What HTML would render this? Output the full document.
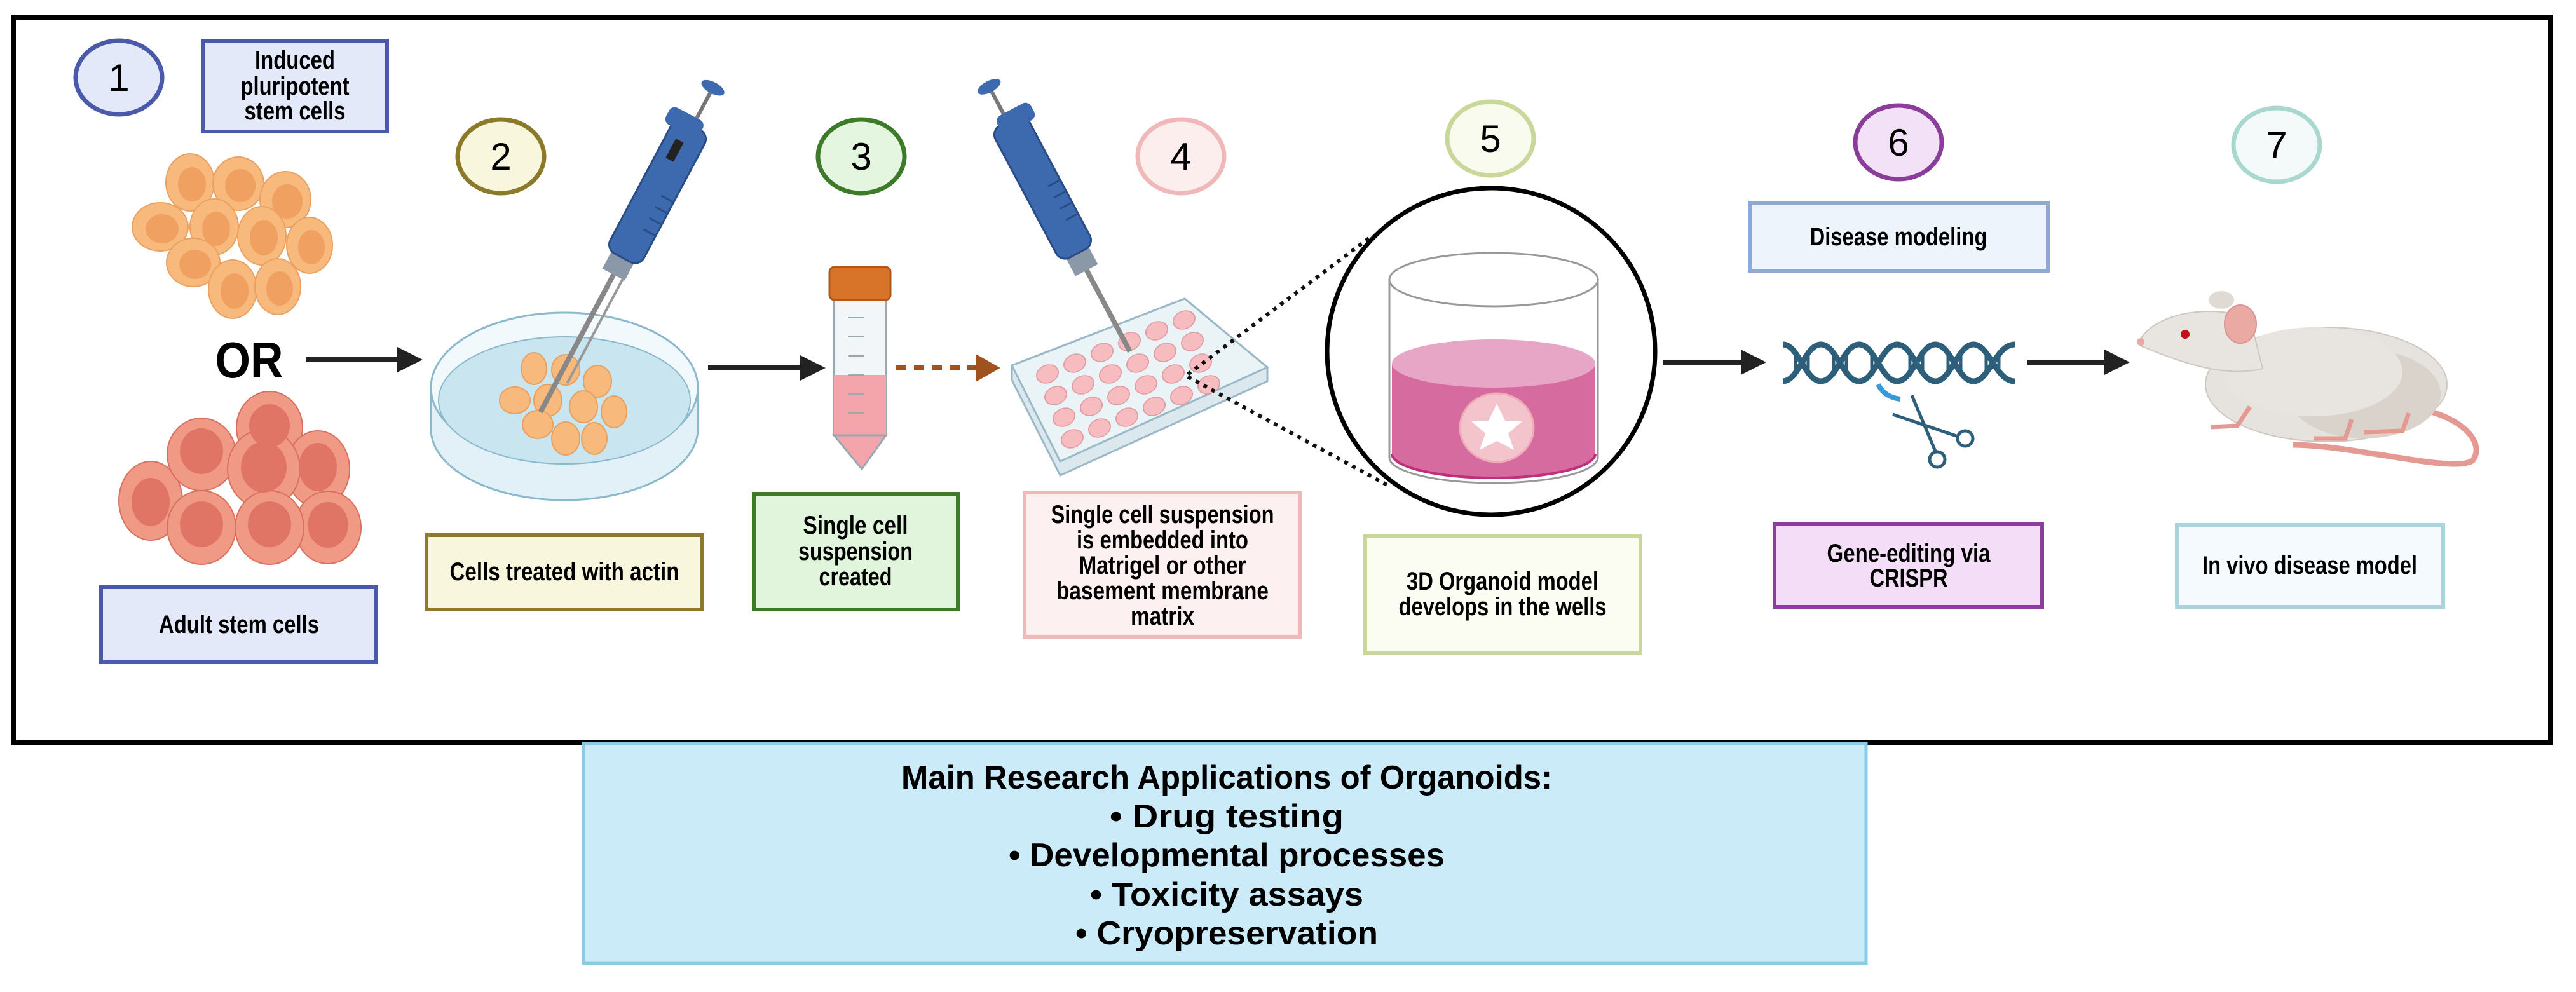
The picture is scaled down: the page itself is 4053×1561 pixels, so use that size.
<!DOCTYPE html>
<html><head><meta charset="utf-8"><style>html,body{margin:0;padding:0;background:#fff}svg{display:block}text{font-family:"Liberation Sans",sans-serif}</style></head>
<body>
<svg width="4053" height="1561" viewBox="0 0 4053 1561" xmlns="http://www.w3.org/2000/svg">
<rect width="4053" height="1561" fill="#fff"/>
<rect x="21" y="27" width="3992" height="1142" fill="none" stroke="#000" stroke-width="8"/>

<!-- bottom box -->
<rect x="918" y="1170" width="2018" height="346" fill="#cbebf9" stroke="#8ccbe6" stroke-width="5"/>
<g font-weight="bold" font-size="52" text-anchor="middle" fill="#000">
<text x="1930" y="1241" textLength="1024" lengthAdjust="spacingAndGlyphs">Main Research Applications of Organoids:</text>
<text x="1930" y="1302" textLength="368" lengthAdjust="spacingAndGlyphs">•  Drug testing</text>
<text x="1930" y="1363" textLength="686" lengthAdjust="spacingAndGlyphs">•  Developmental processes</text>
<text x="1930" y="1425" textLength="430" lengthAdjust="spacingAndGlyphs">•  Toxicity assays</text>
<text x="1930" y="1486" textLength="476" lengthAdjust="spacingAndGlyphs">•  Cryopreservation</text>
</g>

<!-- number circles -->
<g stroke-width="7" font-size="60" text-anchor="middle" fill="#000">
<ellipse cx="187" cy="122" rx="68" ry="58" fill="#e4e9fa" stroke="#4a5aa8"/>
<text x="187" y="143">1</text>
<ellipse cx="788" cy="246" rx="68" ry="58" fill="#f8f6dc" stroke="#8b7a2a"/>
<text x="788" y="267">2</text>
<ellipse cx="1355" cy="246" rx="68" ry="58" fill="#e4f5e0" stroke="#3d7a2a"/>
<text x="1355" y="267">3</text>
<ellipse cx="1858" cy="246" rx="68" ry="58" fill="#fdeeee" stroke="#f0b8b8"/>
<text x="1858" y="267">4</text>
<ellipse cx="2345" cy="218" rx="68" ry="58" fill="#f9fbef" stroke="#c9d89a"/>
<text x="2345" y="239">5</text>
<ellipse cx="2987" cy="224" rx="68" ry="58" fill="#f3e1f7" stroke="#8a3d9a"/>
<text x="2987" y="245">6</text>
<ellipse cx="3582" cy="228" rx="68" ry="58" fill="#f4faf9" stroke="#a8d8d0"/>
<text x="3582" y="249">7</text>
</g>

<!-- label boxes -->
<g stroke-width="6">
<rect x="319" y="64" width="290" height="143" fill="#e4e9fa" stroke="#4a5aa8"/>
<rect x="159" y="924" width="433" height="118" fill="#e4e9fa" stroke="#4a5aa8"/>
<rect x="671" y="842" width="434" height="117" fill="#f8f6dc" stroke="#8b7a2a"/>
<rect x="1186" y="777" width="321" height="182" fill="#e0f5dc" stroke="#3d7a2a"/>
<rect x="1612" y="775" width="433" height="227" fill="#fdf0f0" stroke="#f0b8b8"/>
<rect x="2148" y="844" width="433" height="184" fill="#fbfcf2" stroke="#c9d89a"/>
<rect x="2753" y="319" width="469" height="107" fill="#eef4fc" stroke="#8fa8d8"/>
<rect x="2792" y="825" width="421" height="130" fill="#f4ddf7" stroke="#8a3d9a"/>
<rect x="3425" y="826" width="419" height="129" fill="#f4fafd" stroke="#a8d4de"/>
</g>
<g font-weight="bold" font-size="40" text-anchor="middle" fill="#000">
<text x="464" y="108" textLength="126" lengthAdjust="spacingAndGlyphs">Induced</text>
<text x="464" y="149" textLength="171" lengthAdjust="spacingAndGlyphs">pluripotent</text>
<text x="464" y="188" textLength="159" lengthAdjust="spacingAndGlyphs">stem cells</text>
<text x="376" y="996" textLength="252" lengthAdjust="spacingAndGlyphs">Adult stem cells</text>
<text x="888" y="913" textLength="361" lengthAdjust="spacingAndGlyphs">Cells treated with actin</text>
<text x="1346" y="840" textLength="165" lengthAdjust="spacingAndGlyphs">Single cell</text>
<text x="1346" y="881" textLength="180" lengthAdjust="spacingAndGlyphs">suspension</text>
<text x="1346" y="921" textLength="115" lengthAdjust="spacingAndGlyphs">created</text>
<text x="1829" y="823" textLength="351" lengthAdjust="spacingAndGlyphs">Single cell suspension</text>
<text x="1829" y="863" textLength="270" lengthAdjust="spacingAndGlyphs">is embedded into</text>
<text x="1829" y="903" textLength="263" lengthAdjust="spacingAndGlyphs">Matrigel or other</text>
<text x="1829" y="943" textLength="334" lengthAdjust="spacingAndGlyphs">basement membrane</text>
<text x="1829" y="983" textLength="100" lengthAdjust="spacingAndGlyphs">matrix</text>
<text x="2364" y="928" textLength="302" lengthAdjust="spacingAndGlyphs">3D Organoid model</text>
<text x="2364" y="968" textLength="327" lengthAdjust="spacingAndGlyphs">develops in the wells</text>
<text x="2987" y="386" textLength="279" lengthAdjust="spacingAndGlyphs">Disease modeling</text>
<text x="3003" y="884" textLength="257" lengthAdjust="spacingAndGlyphs">Gene-editing via</text>
<text x="3003" y="923" textLength="123" lengthAdjust="spacingAndGlyphs">CRISPR</text>
<text x="3634" y="903" textLength="338" lengthAdjust="spacingAndGlyphs">In vivo disease model</text>
</g>

<text x="392" y="594" font-weight="bold" font-size="80" text-anchor="middle" textLength="107" lengthAdjust="spacingAndGlyphs">OR</text>

<!-- arrows -->
<g stroke="#222" stroke-width="8" fill="#222">
<line x1="482" y1="566" x2="630" y2="566"/><polygon points="625,546 665,566 625,586" stroke="none"/>
<line x1="1114" y1="579" x2="1264" y2="579"/><polygon points="1259,559 1299,579 1259,599" stroke="none"/>
<line x1="2616" y1="570" x2="2744" y2="570"/><polygon points="2739,550 2779,570 2739,590" stroke="none"/>
<line x1="3190" y1="570" x2="3316" y2="570"/><polygon points="3311,550 3351,570 3311,590" stroke="none"/>
</g>
<line x1="1410" y1="579" x2="1540" y2="579" stroke="#a0521e" stroke-width="8" stroke-dasharray="16,12"/>
<polygon points="1535,557 1574,579 1535,601" fill="#a0521e"/>

<!-- orange cells -->
<g fill="#f7b97c" stroke="#eaa060" stroke-width="2">
<ellipse cx="299" cy="287" rx="38" ry="45"/><ellipse cx="375" cy="289" rx="40" ry="42"/><ellipse cx="449" cy="314" rx="40" ry="44"/>
<ellipse cx="252" cy="357" rx="44" ry="38"/><ellipse cx="337" cy="357" rx="38" ry="44"/><ellipse cx="412" cy="371" rx="38" ry="46"/>
<ellipse cx="487" cy="386" rx="36" ry="44"/><ellipse cx="304" cy="413" rx="42" ry="38"/><ellipse cx="366" cy="455" rx="38" ry="46"/><ellipse cx="437" cy="451" rx="36" ry="44"/>
</g>
<g fill="#f0a060">
<ellipse cx="302" cy="290" rx="22" ry="27"/><ellipse cx="378" cy="292" rx="24" ry="26"/><ellipse cx="452" cy="317" rx="24" ry="27"/>
<ellipse cx="255" cy="360" rx="26" ry="23"/><ellipse cx="340" cy="360" rx="22" ry="27"/><ellipse cx="415" cy="374" rx="22" ry="28"/>
<ellipse cx="490" cy="389" rx="21" ry="27"/><ellipse cx="307" cy="416" rx="25" ry="23"/><ellipse cx="369" cy="458" rx="22" ry="28"/><ellipse cx="440" cy="454" rx="21" ry="27"/>
</g>
<!-- red cells -->
<g stroke="#d87060" stroke-width="2">
<g fill="#f09a85">
<ellipse cx="237" cy="788" rx="50" ry="62"/><ellipse cx="424" cy="673" rx="52" ry="57"/><ellipse cx="317" cy="715" rx="54" ry="57"/>
<ellipse cx="500" cy="738" rx="50" ry="60"/><ellipse cx="415" cy="738" rx="57" ry="62"/><ellipse cx="516" cy="830" rx="52" ry="57"/>
<ellipse cx="317" cy="830" rx="54" ry="58"/><ellipse cx="424" cy="830" rx="54" ry="58"/>
</g>
<g fill="#e07565" stroke="none">
<ellipse cx="237" cy="790" rx="30" ry="38"/><ellipse cx="424" cy="670" rx="32" ry="34"/><ellipse cx="317" cy="710" rx="34" ry="36"/>
<ellipse cx="500" cy="735" rx="30" ry="38"/><ellipse cx="415" cy="735" rx="36" ry="40"/><ellipse cx="516" cy="826" rx="32" ry="36"/>
<ellipse cx="317" cy="825" rx="34" ry="36"/><ellipse cx="424" cy="825" rx="34" ry="36"/>
</g>
</g>

<!-- petri dish -->
<ellipse cx="888" cy="675" rx="210" ry="112" fill="#e2f1f7" stroke="#8ab8cc" stroke-width="3"/>
<rect x="678" y="610" width="420" height="65" fill="#e2f1f7"/>
<line x1="678" y1="610" x2="678" y2="675" stroke="#8ab8cc" stroke-width="3"/>
<line x1="1098" y1="610" x2="1098" y2="675" stroke="#8ab8cc" stroke-width="3"/>
<ellipse cx="888" cy="610" rx="210" ry="118" fill="#f2f9fc" stroke="#8ab8cc" stroke-width="3"/>
<ellipse cx="888" cy="630" rx="198" ry="100" fill="#c8e5f0" stroke="#8ab8cc" stroke-width="2"/>
<g fill="#f7b97c" stroke="#eaa060" stroke-width="2">
<ellipse cx="840" cy="580" rx="20" ry="25"/><ellipse cx="890" cy="582" rx="22" ry="24"/><ellipse cx="940" cy="600" rx="22" ry="25"/>
<ellipse cx="810" cy="630" rx="24" ry="21"/><ellipse cx="862" cy="630" rx="22" ry="25"/><ellipse cx="918" cy="640" rx="22" ry="25"/>
<ellipse cx="966" cy="648" rx="20" ry="25"/><ellipse cx="846" cy="668" rx="24" ry="22"/><ellipse cx="890" cy="690" rx="22" ry="26"/><ellipse cx="935" cy="690" rx="20" ry="25"/>
</g>

<!-- pipette 2 -->
<g transform="translate(1085,207) rotate(28)">
<line x1="0" y1="240" x2="0" y2="500" stroke="#888" stroke-width="8"/>
<line x1="16" y1="240" x2="16" y2="440" stroke="#999" stroke-width="4"/>
<rect x="-20" y="215" width="40" height="40" fill="#8a98a8"/>
<rect x="-30" y="-10" width="60" height="235" rx="16" fill="#3d6aae" stroke="#2a4c85" stroke-width="3"/>
<rect x="-44" y="-24" width="60" height="30" rx="10" fill="#3d6aae"/>
<line x1="0" y1="-24" x2="0" y2="-75" stroke="#777" stroke-width="6"/>
<ellipse cx="0" cy="-78" rx="20" ry="9" fill="#3d6aae"/>
<rect x="-14" y="20" width="14" height="34" fill="#222"/>
<g stroke="#2a4c85" stroke-width="3"><line x1="8" y1="110" x2="28" y2="110"/><line x1="8" y1="130" x2="28" y2="130"/><line x1="8" y1="150" x2="28" y2="150"/><line x1="8" y1="170" x2="28" y2="170"/></g>
</g>

<!-- tube -->
<rect x="1312" y="470" width="82" height="215" fill="#f3f6f8" stroke="#9aa8b2" stroke-width="3"/>
<rect x="1312" y="590" width="82" height="95" fill="#f3a5ab"/>
<polygon points="1312,685 1394,685 1356,738" fill="#f3a5ab" stroke="#9aa8b2" stroke-width="3"/>
<rect x="1305" y="420" width="96" height="52" rx="8" fill="#d8732a" stroke="#b05818" stroke-width="3"/>
<g stroke="#9aa8b2" stroke-width="2"><line x1="1335" y1="500" x2="1360" y2="500"/><line x1="1335" y1="530" x2="1360" y2="530"/><line x1="1335" y1="560" x2="1360" y2="560"/><line x1="1335" y1="590" x2="1360" y2="590"/><line x1="1335" y1="620" x2="1360" y2="620"/><line x1="1335" y1="650" x2="1360" y2="650"/></g>

<!-- well plate -->
<polygon points="1592,575 1864,470 1994,578 1994,600 1668,748 1592,598" fill="#dbe9ef" stroke="#9ab8c8" stroke-width="3"/>
<polygon points="1592,575 1864,470 1994,578 1668,726" fill="#eaf3f6" stroke="#9ab8c8" stroke-width="3"/>
<g transform="matrix(43,-17,13,34,1620,580)" fill="#f7bcc0" stroke="#e09aa0" stroke-width="0.04">
<circle cx="0.5" cy="0.5" r="0.38"/><circle cx="1.5" cy="0.5" r="0.38"/><circle cx="2.5" cy="0.5" r="0.38"/><circle cx="3.5" cy="0.5" r="0.38"/><circle cx="4.5" cy="0.5" r="0.38"/><circle cx="5.5" cy="0.5" r="0.38"/>
<circle cx="0.5" cy="1.5" r="0.38"/><circle cx="1.5" cy="1.5" r="0.38"/><circle cx="2.5" cy="1.5" r="0.38"/><circle cx="3.5" cy="1.5" r="0.38"/><circle cx="4.5" cy="1.5" r="0.38"/><circle cx="5.5" cy="1.5" r="0.38"/>
<circle cx="0.5" cy="2.5" r="0.38"/><circle cx="1.5" cy="2.5" r="0.38"/><circle cx="2.5" cy="2.5" r="0.38"/><circle cx="3.5" cy="2.5" r="0.38"/><circle cx="4.5" cy="2.5" r="0.38"/><circle cx="5.5" cy="2.5" r="0.38"/>
<circle cx="0.5" cy="3.5" r="0.38"/><circle cx="1.5" cy="3.5" r="0.38"/><circle cx="2.5" cy="3.5" r="0.38"/><circle cx="3.5" cy="3.5" r="0.38"/><circle cx="4.5" cy="3.5" r="0.38"/><circle cx="5.5" cy="3.5" r="0.38"/>
</g>
<!-- pipette 4 -->
<g transform="translate(1590,200) rotate(-28)">
<line x1="0" y1="240" x2="0" y2="400" stroke="#888" stroke-width="8"/>
<rect x="-20" y="215" width="40" height="40" fill="#8a98a8"/>
<rect x="-30" y="-10" width="60" height="235" rx="16" fill="#3d6aae" stroke="#2a4c85" stroke-width="3"/>
<rect x="-16" y="-24" width="60" height="30" rx="10" fill="#3d6aae"/>
<line x1="0" y1="-24" x2="0" y2="-70" stroke="#777" stroke-width="6"/>
<ellipse cx="0" cy="-72" rx="20" ry="9" fill="#3d6aae"/>
<g stroke="#2a4c85" stroke-width="3"><line x1="8" y1="110" x2="28" y2="110"/><line x1="8" y1="130" x2="28" y2="130"/><line x1="8" y1="150" x2="28" y2="150"/><line x1="8" y1="170" x2="28" y2="170"/></g>
</g>

<!-- dotted zoom lines -->
<g stroke="#111" stroke-width="6" stroke-dasharray="6,8">
<line x1="1869" y1="589" x2="2159" y2="371"/>
<line x1="1869" y1="593" x2="2186" y2="765"/>
</g>
<ellipse cx="2346" cy="553" rx="258" ry="257" fill="#fff" stroke="#000" stroke-width="7"/>
<!-- beaker -->
<path d="M2186,440 L2186,720 A164,40 0 0 0 2514,720 L2514,440" fill="#fff" stroke="#999" stroke-width="3"/>
<path d="M2190,572 L2190,714 A160,38 0 0 0 2510,714 L2510,572 Z" fill="#d66ba0"/>
<path d="M2190,714 A160,38 0 0 0 2510,714" fill="none" stroke="#c0307a" stroke-width="4"/>
<ellipse cx="2350" cy="572" rx="160" ry="38" fill="#e8a6c6"/>
<ellipse cx="2350" cy="440" rx="164" ry="42" fill="none" stroke="#999" stroke-width="3"/>
<ellipse cx="2355" cy="673" rx="58" ry="54" fill="#f5c9cf" stroke="#f0b0b8" stroke-width="3" opacity="0.95"/>
<polygon points="2355,635 2368,662 2395,663 2373,682 2382,708 2355,694 2328,708 2337,682 2315,663 2342,662" fill="#fff"/>

<!-- DNA -->
<g stroke="#2d5f7a" stroke-width="9" fill="none">
<path d="M2805,542 C2830,542 2840,600 2865,600 C2890,600 2900,542 2925,542 C2950,542 2960,600 2985,600 C3010,600 3020,542 3045,542 C3070,542 3080,600 3105,600 C3130,600 3140,542 3170,542"/>
<path d="M2805,600 C2830,600 2840,542 2865,542 C2890,542 2900,600 2925,600 C2950,600 2960,542 2985,542 C3010,542 3020,600 3045,600 C3070,600 3080,542 3105,542 C3130,542 3140,600 3170,600"/>
</g>
<g stroke="#2d5f7a" stroke-width="5">
<line x1="2825" y1="555" x2="2825" y2="588"/><line x1="2845" y1="560" x2="2845" y2="585"/><line x1="2885" y1="560" x2="2885" y2="585"/><line x1="2905" y1="555" x2="2905" y2="588"/>
<line x1="2945" y1="555" x2="2945" y2="588"/><line x1="3005" y1="560" x2="3005" y2="585"/><line x1="3025" y1="555" x2="3025" y2="588"/>
<line x1="3065" y1="555" x2="3065" y2="588"/><line x1="3085" y1="560" x2="3085" y2="585"/><line x1="3125" y1="560" x2="3125" y2="585"/><line x1="3145" y1="555" x2="3145" y2="588"/>
</g>
<path d="M2955,605 Q2965,625 2990,628" stroke="#3a9ad8" stroke-width="8" fill="none"/>
<!-- scissors -->
<g stroke="#2d5f7a" stroke-width="5" fill="none">
<line x1="3008" y1="622" x2="3045" y2="710"/>
<line x1="2978" y1="652" x2="3078" y2="686"/>
<circle cx="3048" cy="723" r="12"/><circle cx="3092" cy="690" r="12"/>
</g>

<!-- mouse -->
<path d="M3813,645 C3880,660 3910,700 3890,725 C3860,745 3700,700 3607,700" stroke="#e49a92" stroke-width="9" fill="none"/>
<ellipse cx="3660" cy="605" rx="190" ry="90" fill="#e6e2de" stroke="#cfc8c0" stroke-width="2"/>
<ellipse cx="3720" cy="620" rx="120" ry="70" fill="#d9d3cc"/>
<ellipse cx="3640" cy="585" rx="140" ry="70" fill="#e8e4e0"/>
<path d="M3370,530 C3400,490 3480,480 3540,500 L3560,580 C3500,595 3430,570 3370,545 Z" fill="#e8e4e0" stroke="#cfc8c0" stroke-width="2"/>
<ellipse cx="3495" cy="472" rx="20" ry="14" fill="#e0dad4"/>
<ellipse cx="3525" cy="510" rx="25" ry="30" fill="#eba9a4" stroke="#d89490" stroke-width="2"/>
<circle cx="3438" cy="526" r="7" fill="#c0101a"/>
<circle cx="3368" cy="538" r="6" fill="#eba9a4"/>
<g stroke="#e49a92" stroke-width="7" fill="none">
<path d="M3540,640 L3520,670 L3478,672"/><path d="M3790,650 L3780,678 L3720,680"/><path d="M3700,660 L3690,690 L3640,690"/>
</g>
</svg>
</body></html>
